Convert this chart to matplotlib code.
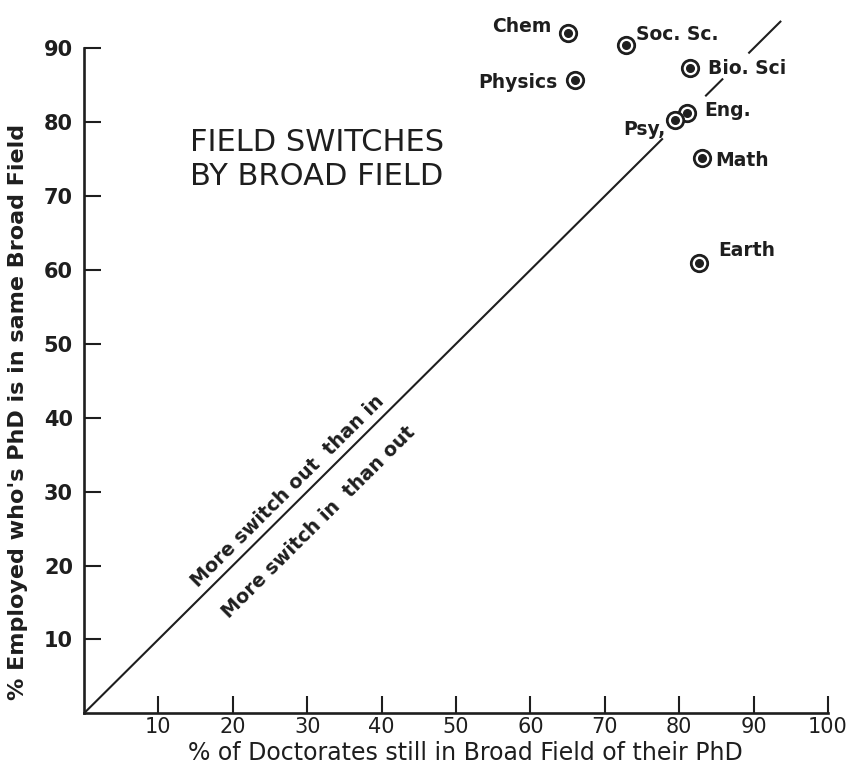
import matplotlib
matplotlib.use("Agg")
import matplotlib.pyplot as plt

# ---- data ----
fields = ["Chem", "Soc. Sc.", "Physics", "Bio. Sci", "Eng.", "Psy,", "Math", "Earth"]
pct_still_in_field = [65.0, 72.8, 66.0, 81.5, 81.1, 79.4, 83.0, 82.7]
pct_employed_same_field = [92.1, 90.4, 85.7, 87.3, 81.2, 80.3, 75.1, 61.0]

# label anchor positions (data units) and alignment
label_x = [62.9, 74.2, 63.6, 83.9, 83.3, 78.2, 84.9, 85.2]
label_y = [93.0, 91.8, 85.3, 87.3, 81.6, 79.0, 74.8, 62.6]
label_ha = ["right", "left", "right", "left", "left", "right", "left", "left"]

# diagonal y = x reference line drawn in pieces (gaps around labels)
diag_segments = [(0.0, 77.8), (83.5, 85.9), (89.3, 93.7)]

x_ticks = [10, 20, 30, 40, 50, 60, 70, 80, 90, 100]
y_ticks = [10, 20, 30, 40, 50, 60, 70, 80, 90]

ink = "#1e1e1e"

fig = plt.figure(figsize=(8.52, 7.70), dpi=100)
ax = fig.add_axes([84 / 852, (770 - 713.3) / 770, 744 / 852, 702 / 770])
ax.set_xlim(0, 100)
ax.set_ylim(0, 95)

for x0, x1 in diag_segments:
    ax.plot([x0, x1], [x0, x1], color=ink, lw=1.5, solid_capstyle="butt", clip_on=False)

ax.scatter(pct_still_in_field, pct_employed_same_field, s=140, facecolor="white",
           edgecolor=ink, linewidth=2.0, zorder=3, clip_on=False)
ax.scatter(pct_still_in_field, pct_employed_same_field, s=30, color=ink, zorder=4,
           clip_on=False)

for name, lx, ly, ha in zip(fields, label_x, label_y, label_ha):
    ax.text(lx, ly, name, ha=ha, va="center", fontsize=13.5, fontweight="bold",
            color=ink, family="DejaVu Sans")

ax.text(14.2, 79.2, "FIELD SWITCHES\nBY BROAD FIELD", ha="left", va="top",
        fontsize=22, color=ink, linespacing=1.2, family="DejaVu Sans")

ax.text(27.4, 30.0, "More switch out  than in", rotation=44.8, rotation_mode="anchor",
        ha="center", va="center", fontsize=13.8, fontweight="bold", color=ink)
ax.text(31.5, 25.8, "More switch in  than out", rotation=44.8, rotation_mode="anchor",
        ha="center", va="center", fontsize=13.8, fontweight="bold", color=ink)

for s in ["top", "right"]:
    ax.spines[s].set_visible(False)
ax.spines["left"].set_bounds(0, 90)
ax.spines["bottom"].set_bounds(0, 100)
for s in ["left", "bottom"]:
    ax.spines[s].set_linewidth(1.9)
    ax.spines[s].set_color(ink)

ax.set_xticks(x_ticks)
ax.set_xticklabels([str(v) for v in x_ticks], fontsize=15, color=ink)
ax.set_yticks(y_ticks)
ax.set_yticklabels([str(v) for v in y_ticks], fontsize=15, fontweight="bold", color=ink)
ax.tick_params(axis="x", direction="in", length=12, width=1.5, pad=3, colors=ink)
ax.tick_params(axis="y", direction="in", length=12, width=1.5, pad=8, colors=ink)

fig.text(465 / 852, 1 - 753 / 770, "% of Doctorates still in Broad Field of their PhD",
         ha="center", va="center", fontsize=17, color=ink)
fig.text(18 / 852, 1 - 412 / 770, "% Employed who's PhD is in same Broad Field",
         ha="center", va="center", rotation=90, fontsize=16, fontweight="bold", color=ink)

fig.savefig("out.png", dpi=100, facecolor="white")
